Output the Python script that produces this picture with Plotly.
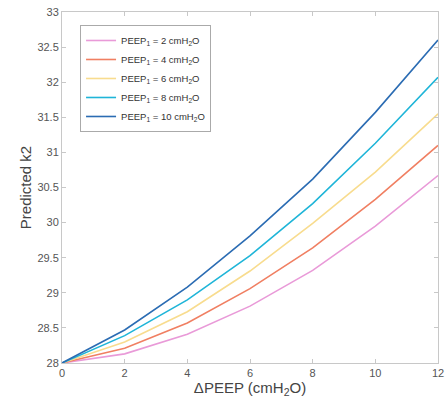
import plotly.graph_objects as go

# Predicted k2 vs delta PEEP, one curve per baseline PEEP1
delta_peep = [0, 2, 4, 6, 8, 10, 12]

k2_peep2 = [28.0, 28.13, 28.41, 28.81, 29.32, 29.95, 30.67]
k2_peep4 = [28.0, 28.21, 28.57, 29.06, 29.64, 30.33, 31.10]
k2_peep6 = [28.0, 28.30, 28.73, 29.31, 29.99, 30.72, 31.55]
k2_peep8 = [28.0, 28.39, 28.90, 29.53, 30.27, 31.13, 32.07]
k2_peep10 = [28.0, 28.47, 29.08, 29.81, 30.62, 31.57, 32.60]

series = [
    ("PEEP<sub>1</sub> = 2 cmH<sub>2</sub>O", k2_peep2, "#e99ad8"),
    ("PEEP<sub>1</sub> = 4 cmH<sub>2</sub>O", k2_peep4, "#f07f62"),
    ("PEEP<sub>1</sub> = 6 cmH<sub>2</sub>O", k2_peep6, "#f8dc8e"),
    ("PEEP<sub>1</sub> = 8 cmH<sub>2</sub>O", k2_peep8, "#1fb5d8"),
    ("PEEP<sub>1</sub> = 10 cmH<sub>2</sub>O", k2_peep10, "#2b6cb3"),
]

fig = go.Figure()
for name, vals, color in series:
    fig.add_trace(go.Scatter(
        x=delta_peep, y=vals, mode="lines", name=name,
        line=dict(color=color, width=1.6),
    ))

axis_style = dict(
    showgrid=False, zeroline=False, showline=True, linecolor="#c8c8c8",
    linewidth=1, mirror="ticks", ticks="inside", ticklen=4, automargin=False,
    tickcolor="#c8c8c8", tickfont=dict(size=11, color="#555555"),
)

fig.update_layout(
    width=448, height=405,
    margin=dict(l=62, r=10, t=12, b=42),
    paper_bgcolor="white", plot_bgcolor="white",
    font=dict(family="Liberation Sans, Arial, sans-serif", color="#444444"),
    xaxis=dict(range=[0, 12], dtick=2, title=dict(text="ΔPEEP (cmH<sub>2</sub>O)",
               font=dict(size=15), standoff=4), **axis_style),
    yaxis=dict(range=[28, 33], dtick=0.5, title=dict(text="Predicted k2",
               font=dict(size=15), standoff=2), **axis_style),
    legend=dict(x=0.048, y=0.963, xanchor="left", yanchor="top",
                bordercolor="#aaaaaa", borderwidth=1, bgcolor="white",
                font=dict(size=9.5, color="#333333"), tracegroupgap=0),
)

# drop the page's default body margin so the figure sits at the window corner
fig.write_html("out.html", config={"displayModeBar": False},
               post_script="document.body.style.margin='0';")
